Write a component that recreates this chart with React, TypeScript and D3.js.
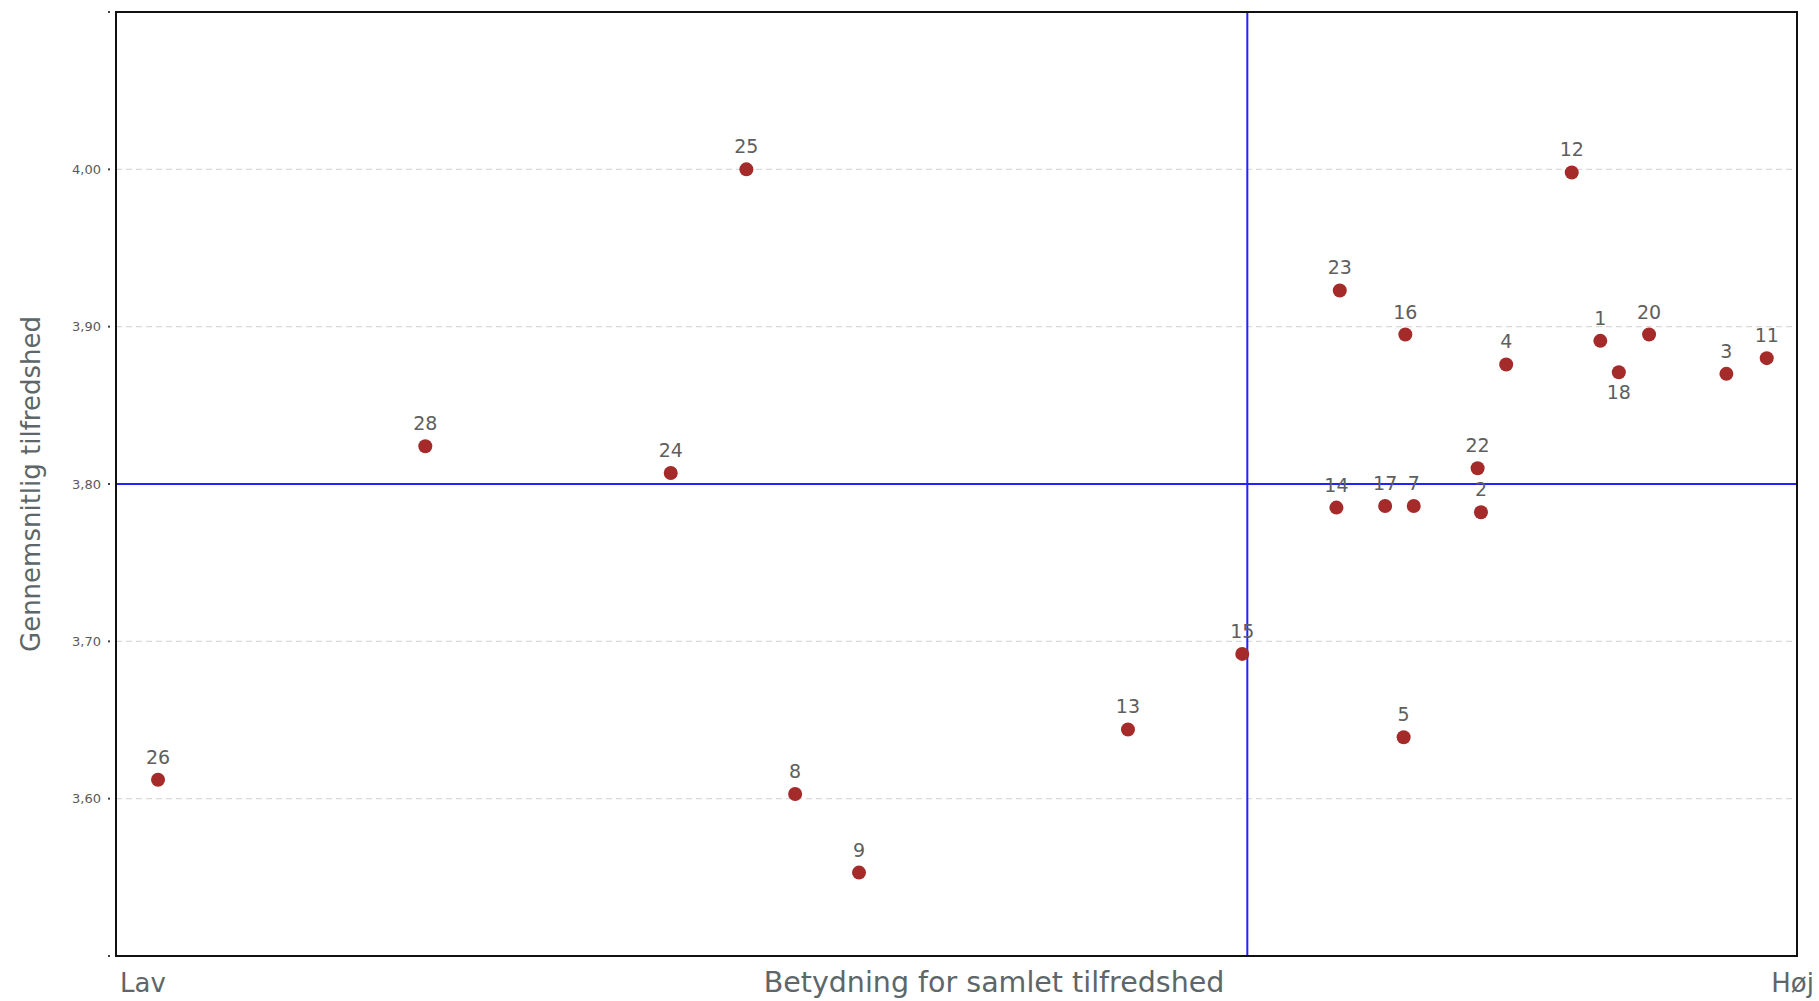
import React from "react";
import * as d3 from "d3";

// Data
const ids = [26, 28, 24, 25, 8, 9, 13, 15, 23, 16, 14, 17, 7, 5, 22, 2, 4, 12, 1, 18, 20, 3, 11];
// Importance for overall satisfaction (relative index, no visible scale)
const importance = [2.5, 18.4, 33.0, 37.5, 40.4, 44.2, 60.2, 67.0, 72.8, 76.7, 72.6, 75.5, 77.2, 76.6, 81.0, 81.2, 82.7, 86.6, 88.3, 89.4, 91.2, 95.8, 98.2];
// Average satisfaction
const satisfaction = [3.612, 3.824, 3.807, 4.0, 3.603, 3.553, 3.644, 3.692, 3.923, 3.895, 3.785, 3.786, 3.786, 3.639, 3.81, 3.782, 3.876, 3.998, 3.891, 3.871, 3.895, 3.87, 3.88];
const labelsBelow = [18];
const yTicks = [3.5, 3.6, 3.7, 3.8, 3.9, 4.0, 4.1];
const yTickLabeled = [3.6, 3.7, 3.8, 3.9, 4.0];
const xDomain = [0, 100];
const yDomain = [3.5, 4.1];
const xMidline = 67.3;
const yMidline = 3.8;
const xTitle = "Betydning for samlet tilfredshed";
const yTitle = "Gennemsnitlig tilfredshed";
const xLowLabel = "Lav";
const xHighLabel = "Høj";

const W = 1819;
const H = 1001;
const m = { left: 116, right: 1797, top: 12, bottom: 956 };

export default function App() {
  const x = d3.scaleLinear().domain(xDomain).range([m.left, m.right]);
  const y = d3.scaleLinear().domain(yDomain).range([m.bottom, m.top]);
  const fmt = (v: number) => d3.format(".2f")(v).replace(".", ",");
  const font = "'DejaVu Sans', Verdana, sans-serif";
  const pts = ids.map((id, i) => ({ id, x: importance[i], y: satisfaction[i] }));

  return (
    <svg
      width={W}
      height={H}
      style={{ position: "absolute", left: 0, top: 0, background: "#fff" }}
    >
      {/* gridlines */}
      {yTicks
        .filter((t) => t > yDomain[0] && t < yDomain[1])
        .map((t) => (
          <line
            key={"g" + t}
            x1={m.left}
            x2={m.right}
            y1={y(t)}
            y2={y(t)}
            stroke="#d9d9d9"
            strokeWidth={1.2}
            strokeDasharray="6,4"
          />
        ))}
      {/* tick dots and labels */}
      {yTicks.map((t) => (
        <g key={"t" + t}>
          <rect x={108} y={y(t) - 1} width={2} height={2} fill="#444" />
          {yTickLabeled.some((v) => Math.abs(v - t) < 1e-9) && (
            <text
              x={101}
              y={y(t)}
              dy="0.35em"
              textAnchor="end"
              fontFamily={font}
              fontSize={13}
              fill="#5a5a5a"
            >
              {fmt(t)}
            </text>
          )}
        </g>
      ))}
      {/* midlines */}
      <line x1={m.left} x2={m.right} y1={y(yMidline)} y2={y(yMidline)} stroke="#2222ff" strokeWidth={2} />
      <line x1={x(xMidline)} x2={x(xMidline)} y1={m.top} y2={m.bottom} stroke="#2222ff" strokeWidth={2} />
      {/* frame */}
      <rect
        x={m.left}
        y={m.top}
        width={m.right - m.left}
        height={m.bottom - m.top}
        fill="none"
        stroke="#111"
        strokeWidth={2}
      />
      {/* points */}
      {pts.map((p) => (
        <circle key={"c" + p.id} cx={x(p.x)} cy={y(p.y)} r={7} fill="#a52a2a" />
      ))}
      {pts.map((p) => {
        const below = labelsBelow.includes(p.id);
        return (
          <text
            key={"l" + p.id}
            x={x(p.x)}
            y={y(p.y) + (below ? 27 : -16)}
            textAnchor="middle"
            fontFamily={font}
            fontSize={19}
            fill="#5e5e5e"
          >
            {p.id}
          </text>
        );
      })}
      {/* axis titles */}
      <text
        x={994}
        y={992}
        textAnchor="middle"
        fontFamily={font}
        fontSize={28.5}
        fill="#5d6668"
      >
        {xTitle}
      </text>
      <text x={120} y={992} fontFamily={font} fontSize={26} fill="#5d6668">
        {xLowLabel}
      </text>
      <text x={1814} y={992} textAnchor="end" fontFamily={font} fontSize={26} fill="#5d6668">
        {xHighLabel}
      </text>
      <text
        transform={`translate(40, ${(m.top + m.bottom) / 2}) rotate(-90)`}
        textAnchor="middle"
        fontFamily={font}
        fontSize={26}
        fill="#5d6668"
      >
        {yTitle}
      </text>
    </svg>
  );
}
